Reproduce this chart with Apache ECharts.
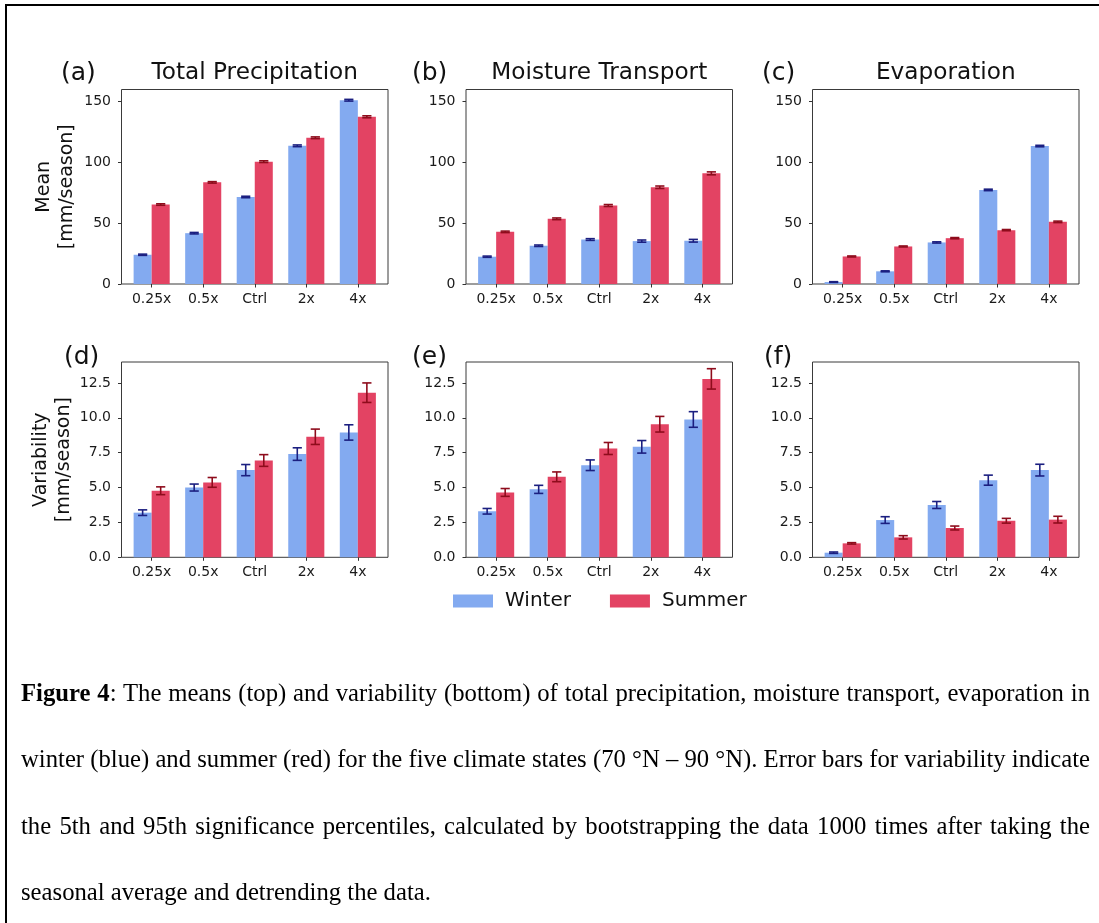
<!DOCTYPE html>
<html><head><meta charset="utf-8">
<script src="https://cdn.jsdelivr.net/npm/echarts@6/dist/echarts.min.js"></script>
<style>
html,body{margin:0;padding:0;background:#fff;}
#wrap{position:relative;width:1099px;height:923px;overflow:hidden;background:#fff;}
#frame{position:absolute;left:5px;top:4px;width:1200px;height:1000px;border-left:2.3px solid #000;border-top:2.3px solid #000;}
#chart{position:absolute;left:0;top:0;width:1099px;height:923px;}
#caption{position:absolute;left:21px;top:0;width:1069px;font-family:'Liberation Serif','Times New Roman',serif;font-size:24.7px;color:#000;}
.ln{position:absolute;left:0;width:1069px;line-height:30px;text-align:justify;text-align-last:justify;}
.ln.last{text-align:left;text-align-last:left;}
</style></head>
<body>
<div id="wrap">
<div id="frame"></div>
<div id="chart"></div>
<div id="caption">
<div class="ln" style="top:678px"><b>Figure 4</b>: The means (top) and variability (bottom) of total precipitation, moisture transport, evaporation in</div>
<div class="ln" style="top:744px">winter (blue) and summer (red) for the five climate states (70 °N – 90 °N). Error bars for variability indicate</div>
<div class="ln" style="top:811px">the 5th and 95th significance percentiles, calculated by bootstrapping the data 1000 times after taking the</div>
<div class="ln last" style="top:877px">seasonal average and detrending the data.</div>
</div>
</div>
<script>
// ---------- data ----------
const categories = ['0.25x', '0.5x', 'Ctrl', '2x', '4x'];
const meanTicks = [0, 50, 100, 150];
const varTicks = [0, 2.5, 5, 7.5, 10, 12.5];
const panelLabels = ['(a)', '(b)', '(c)', '(d)', '(e)', '(f)'];
const panelTitles = ['Total Precipitation', 'Moisture Transport', 'Evaporation'];

const precipMeanWinter = [24.0, 41.7, 71.4, 113.4, 150.8];
const precipMeanWinterErr = [0.5, 0.6, 0.6, 0.7, 0.7];
const precipMeanSummer = [65.2, 83.4, 100.4, 120.0, 137.2];
const precipMeanSummerErr = [0.6, 0.6, 0.7, 0.7, 0.8];

const transpMeanWinter = [22.4, 31.4, 36.5, 35.2, 35.5];
const transpMeanWinterErr = [0.5, 0.6, 0.7, 0.9, 1.1];
const transpMeanSummer = [42.8, 53.5, 64.4, 79.4, 90.8];
const transpMeanSummerErr = [0.6, 0.7, 0.8, 1.0, 1.2];

const evapMeanWinter = [1.6, 10.4, 34.1, 77.2, 113.2];
const evapMeanWinterErr = [0.3, 0.4, 0.5, 0.6, 0.6];
const evapMeanSummer = [22.6, 30.8, 37.6, 44.2, 51.0];
const evapMeanSummerErr = [0.4, 0.4, 0.5, 0.5, 0.6];

const precipVarWinter = [3.2, 5.0, 6.25, 7.4, 8.95];
const precipVarWinterErr = [0.2, 0.25, 0.4, 0.45, 0.55];
const precipVarSummer = [4.77, 5.37, 6.94, 8.64, 11.8];
const precipVarSummerErr = [0.28, 0.35, 0.42, 0.55, 0.7];

const transpVarWinter = [3.3, 4.87, 6.6, 7.92, 9.88];
const transpVarWinterErr = [0.2, 0.29, 0.38, 0.45, 0.56];
const transpVarSummer = [4.65, 5.77, 7.8, 9.54, 12.79];
const transpVarSummerErr = [0.28, 0.35, 0.43, 0.56, 0.73];

const evapVarWinter = [0.33, 2.67, 3.75, 5.53, 6.25];
const evapVarWinterErr = [0.05, 0.24, 0.25, 0.36, 0.42];
const evapVarSummer = [1.0, 1.43, 2.1, 2.62, 2.7];
const evapVarSummerErr = [0.05, 0.12, 0.14, 0.17, 0.24];

// ---------- layout / style ----------
const FONT = "'DejaVu Sans', sans-serif";
const WINTER = '#83aaf0', SUMMER = '#e34363';
const WINTER_ERR = '#1b1f80', SUMMER_ERR = '#8e0c1c';
const colLeft = [121.5, 466, 812.5];
const colWidth = 266.5;
const rowTop = [89.5, 362];
const rowHeight = [194.5, 195.3];
const labelX = [[61, 412, 762], [64, 412, 764]];
const rowLabelY = [73, 357];
const BAR_W = 0.35;

const panels = [
  {w: precipMeanWinter, we: precipMeanWinterErr, s: precipMeanSummer, se: precipMeanSummerErr},
  {w: transpMeanWinter, we: transpMeanWinterErr, s: transpMeanSummer, se: transpMeanSummerErr},
  {w: evapMeanWinter, we: evapMeanWinterErr, s: evapMeanSummer, se: evapMeanSummerErr},
  {w: precipVarWinter, we: precipVarWinterErr, s: precipVarSummer, se: precipVarSummerErr},
  {w: transpVarWinter, we: transpVarWinterErr, s: transpVarSummer, se: transpVarSummerErr},
  {w: evapVarWinter, we: evapVarWinterErr, s: evapVarSummer, se: evapVarSummerErr}
];

const grids = [], xAxes = [], yAxes = [], series = [], graphics = [];
const catIdx = categories.map((c, i) => i);

function errRender(offsetSign, color) {
  return function (params, api) {
    const x = api.value(0), lo = api.value(1), hi = api.value(2);
    const dx = offsetSign * api.size([BAR_W / 2, 0])[0];
    const pLo = api.coord([x, lo]), pHi = api.coord([x, hi]);
    const cx = pLo[0] + dx, hw = 4.6;
    const st = {stroke: color, lineWidth: 1.6};
    return {type: 'group', children: [
      {type: 'line', shape: {x1: cx, y1: pLo[1], x2: cx, y2: pHi[1]}, style: st},
      {type: 'line', shape: {x1: cx - hw, y1: pLo[1], x2: cx + hw, y2: pLo[1]}, style: st},
      {type: 'line', shape: {x1: cx - hw, y1: pHi[1], x2: cx + hw, y2: pHi[1]}, style: st}
    ]};
  };
}

panels.forEach((p, k) => {
  const row = Math.floor(k / 3), col = k % 3;
  const isMean = row === 0;
  grids.push({left: colLeft[col], top: rowTop[row], width: colWidth, height: rowHeight[row],
    show: true, borderColor: '#3a3a3a', borderWidth: 1, backgroundColor: 'transparent', containLabel: false});
  xAxes.push({type: 'value', gridIndex: k, min: -0.585, max: 4.585, position: 'bottom',
    axisLine: {show: false, onZero: false}, splitLine: {show: false},
    axisTick: {show: true, inside: false, length: 3.5, lineStyle: {color: '#333', width: 1}, customValues: catIdx},
    axisLabel: {show: true, margin: 8, fontSize: 14, fontFamily: FONT, color: '#1a1a1a', customValues: catIdx,
      formatter: v => categories[Math.round(v)]}
  });
  const ticks = isMean ? meanTicks : varTicks;
  const yA = {type: 'value', gridIndex: k, min: 0, max: isMean ? 159.6 : 14.0, position: 'left',
    axisLine: {show: false, onZero: false}, splitLine: {show: false},
    axisTick: {show: true, inside: false, length: 3.5, lineStyle: {color: '#333', width: 1}, customValues: ticks},
    axisLabel: {show: true, margin: 10.5, fontSize: 14, fontFamily: FONT, color: '#1a1a1a', customValues: ticks,
      formatter: v => isMean ? String(v) : v.toFixed(1)}
  };
  if (col === 0) {
    yA.name = isMean ? 'Mean\n[mm/season]' : 'Variability\n[mm/season]';
    yA.nameLocation = 'middle';
    yA.nameGap = 43;
    yA.nameTextStyle = {fontSize: 19, lineHeight: 23, fontFamily: FONT, color: '#111'};
  }
  yAxes.push(yA);

  series.push({name: 'Winter', type: 'bar', xAxisIndex: k, yAxisIndex: k, barWidth: '35%', barGap: '0%',
    itemStyle: {color: WINTER}, data: catIdx.map(i => [i, p.w[i]]), z: 2});
  series.push({name: 'Summer', type: 'bar', xAxisIndex: k, yAxisIndex: k, barWidth: '35%', barGap: '0%',
    itemStyle: {color: SUMMER}, data: catIdx.map(i => [i, p.s[i]]), z: 2});
  series.push({name: 'Winter error', type: 'custom', xAxisIndex: k, yAxisIndex: k, z: 5,
    renderItem: errRender(-1, WINTER_ERR), encode: {x: 0, y: [1, 2]},
    data: catIdx.map(i => [i, p.w[i] - p.we[i], p.w[i] + p.we[i]])});
  series.push({name: 'Summer error', type: 'custom', xAxisIndex: k, yAxisIndex: k, z: 5,
    renderItem: errRender(1, SUMMER_ERR), encode: {x: 0, y: [1, 2]},
    data: catIdx.map(i => [i, p.s[i] - p.se[i], p.s[i] + p.se[i]])});

  graphics.push({type: 'text', x: labelX[row][col], y: rowLabelY[row],
    style: {text: panelLabels[k], font: "25px 'DejaVu Sans'", fill: '#111', textAlign: 'left', textVerticalAlign: 'middle'}});
  if (isMean) {
    graphics.push({type: 'text', x: colLeft[col] + colWidth / 2, y: 73,
      style: {text: panelTitles[col], font: "23.2px 'DejaVu Sans'", fill: '#111', textAlign: 'center', textVerticalAlign: 'middle'}});
  }
});

const chart = echarts.init(document.getElementById('chart'), null, {renderer: 'canvas'});
chart.setOption({
  backgroundColor: 'transparent',
  animation: false,
  grid: grids,
  xAxis: xAxes,
  yAxis: yAxes,
  series: series,
  graphic: graphics,
  legend: {data: ['Winter', 'Summer'], left: 448, top: 586, icon: 'rect', itemWidth: 40, itemHeight: 13,
    itemGap: 39, textStyle: {fontSize: 20, fontFamily: FONT, color: '#111', padding: [0, 0, 0, 7]}}
});
</script>
</body></html>
